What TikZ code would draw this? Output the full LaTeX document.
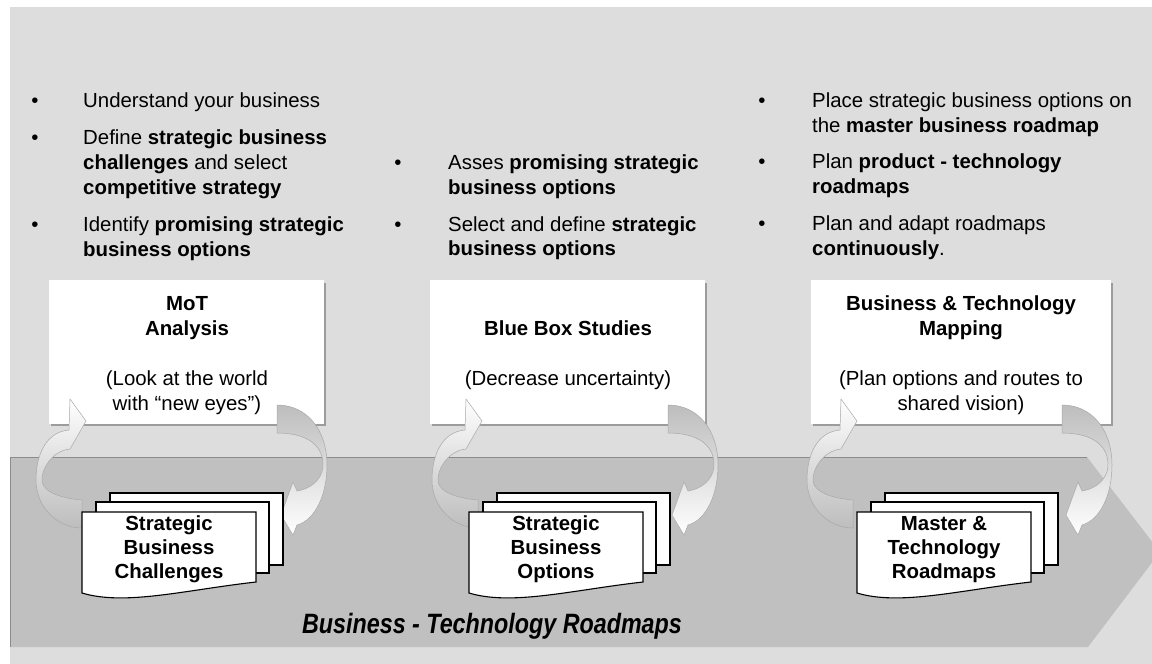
\documentclass[tikz,border=0pt]{standalone}
\usepackage{fontspec}
\setmainfont{Liberation Sans}
\definecolor{bgc}{HTML}{DDDDDD}
\definecolor{band}{HTML}{C0C0C0}
\definecolor{edge}{HTML}{8C8C8C}
\definecolor{shadowc}{HTML}{9C9C9C}
\definecolor{loopg}{HTML}{BDBDBD}
\definecolor{loopline}{HTML}{A8A8A8}

\tikzset{
  txt/.style={inner sep=0pt, font=\fontsize{20.4}{25}\selectfont, anchor=base},
  lft/.style={txt, anchor=base west},
  card/.style={fill=white},
  cardshadow/.style={fill=shadowc},
  sheet/.style={fill=white, draw=black, line width=1.1pt},
  loopL/.style={draw=loopline, line width=0.5pt, top color=white, bottom color=loopg},
  loopR/.style={draw=loopline, line width=0.5pt, top color=loopg, bottom color=white},
  % curved arrow climbing from the document stack into the box
  leftloop/.pic={
    \path[loopL] (0,500) .. controls (-25,498) and (-42,490) .. (-40,478)
      .. controls (-38,462) and (-25,450) .. (-12,449) -- (4,421) -- (-12,399)
      -- (-13,430) .. controls (-36,432) and (-46,455) .. (-46,480)
      .. controls (-46,507) and (-25,528) .. (0,528) -- cycle;
  },
  % curved arrow dropping from the box onto the document stack
  rightloop/.pic={
    \path[loopR] (0,405) .. controls (30,405) and (50,430) .. (50,465)
      .. controls (50,495) and (38,520) .. (20,525) -- (16,535) -- (4,515)
      -- (16,482) -- (20,491) .. controls (38,488) and (47,475) .. (46,463)
      .. controls (45,445) and (30,433) .. (0,433) -- cycle;
  },
  % three stacked sheets, the front one with a wavy lower edge
  docstack/.pic={
    \path[sheet] (28,493) rectangle (201,565);
    \path[sheet] (14,502) rectangle (187,573);
    \path[sheet] (0,512) -- (174,512) -- (174,582)
      .. controls (103,590) and (43,606) .. (0,593) -- cycle;
  },
}

\begin{document}
\begin{tikzpicture}[x=1pt,y=-1pt]
\useasboundingbox (0,0) rectangle (1152,664);
\fill[white] (0,0) rectangle (1152,664);
\fill[bgc] (10,7) rectangle (1152,664);

% roadmap band
\fill[band] (10,457) -- (1087,457) -- (1160,552) -- (1088,647) -- (10,647) -- cycle;
\draw[edge, line width=1pt] (10,647) -- (10,457) -- (1087,457);

% process boxes
\fill[cardshadow] (51,283) rectangle (326,426);
\fill[card] (49,280) rectangle (324,424);
\fill[cardshadow] (432,283) rectangle (707,426);
\fill[card] (430,280) rectangle (705,424);
\fill[cardshadow] (813,283) rectangle (1113,426);
\fill[card] (811,280) rectangle (1111,424);

\node[txt, font=\fontsize{20.4}{25}\selectfont\bfseries] (mot1) at (187,310) {MoT};
\node[txt, font=\fontsize{20.4}{25}\selectfont\bfseries] (mot2) at (187,335) {Analysis};
\node[txt] (mot3) at (187,385) {(Look at the world};
\node[txt] (mot4) at (187,410) {with “new eyes”)};

\node[txt, font=\fontsize{20.4}{25}\selectfont\bfseries] (bbs1) at (568,335) {Blue Box Studies};
\node[txt] (bbs2) at (568,385) {(Decrease uncertainty)};

\node[txt, font=\fontsize{20.4}{25}\selectfont\bfseries] (btm1) at (961,310) {Business \& Technology};
\node[txt, font=\fontsize{20.4}{25}\selectfont\bfseries] (btm2) at (961,335) {Mapping};
\node[txt] (btm3) at (961,385) {(Plan options and routes to};
\node[txt] (btm4) at (961,410) {shared vision)};

% loops between boxes and documents
\pic at (82,0) {leftloop};
\pic at (277,0) {rightloop};
\pic at (478,0) {leftloop};
\pic at (668,0) {rightloop};
\pic at (853,0) {leftloop};
\pic at (1062,0) {rightloop};

% document stacks
\pic at (82,0) {docstack};
\pic at (469,0) {docstack};
\pic at (857,0) {docstack};

\node[txt, font=\fontsize{20.4}{25}\selectfont\bfseries] (sbc1) at (169,530) {Strategic};
\node[txt, font=\fontsize{20.4}{25}\selectfont\bfseries] (sbc2) at (169,554) {Business};
\node[txt, font=\fontsize{20.4}{25}\selectfont\bfseries] (sbc3) at (169,578) {Challenges};

\node[txt, font=\fontsize{20.4}{25}\selectfont\bfseries] (sbo1) at (556,530) {Strategic};
\node[txt, font=\fontsize{20.4}{25}\selectfont\bfseries] (sbo2) at (556,554) {Business};
\node[txt, font=\fontsize{20.4}{25}\selectfont\bfseries] (sbo3) at (556,578) {Options};

\node[txt, font=\fontsize{20.4}{25}\selectfont\bfseries] (mtr1) at (944,530) {Master \&};
\node[txt, font=\fontsize{20.4}{25}\selectfont\bfseries] (mtr2) at (944,554) {Technology};
\node[txt, font=\fontsize{20.4}{25}\selectfont\bfseries] (mtr3) at (944,578) {Roadmaps};

% bullet lists
\node[txt] (ba1) at (35,107) {•};
\node[txt] (ba2) at (35,144) {•};
\node[txt] (ba3) at (35,231) {•};
\node[lft] (la1) at (83,107) {Understand your business};
\node[lft] (la2) at (83,144) {Define \textbf{strategic business}};
\node[lft] (la3) at (83,169) {\textbf{challenges} and select};
\node[lft] (la4) at (83,194) {\textbf{competitive strategy}};
\node[lft] (la5) at (83,231) {Identify \textbf{promising strategic}};
\node[lft] (la6) at (83,256) {\textbf{business options}};

\node[txt] (bb1) at (398,169) {•};
\node[txt] (bb2) at (398,231) {•};
\node[lft] (lb1) at (448,169) {Asses \textbf{promising strategic}};
\node[lft] (lb2) at (448,194) {\textbf{business options}};
\node[lft] (lb3) at (448,231) {Select and define \textbf{strategic}};
\node[lft] (lb4) at (448,255) {\textbf{business options}};

\node[txt] (bc1) at (762,107) {•};
\node[txt] (bc2) at (762,168) {•};
\node[txt] (bc3) at (762,230) {•};
\node[lft] (lc1) at (812,107) {Place strategic business options on};
\node[lft] (lc2) at (812,132) {the \textbf{master business roadmap}};
\node[lft] (lc3) at (812,168) {Plan \textbf{product - technology}};
\node[lft] (lc4) at (812,193) {\textbf{roadmaps}};
\node[lft] (lc5) at (812,230) {Plan and adapt roadmaps};
\node[lft] (lc6) at (812,255) {\textbf{continuously}.};

% band title
\node[txt, font=\fontsize{23.3}{28}\selectfont\bfseries\itshape] (title) at (492,633)
  {\scalebox{1}[1.2]{Business - Technology Roadmaps}};
\end{tikzpicture}
\end{document}
